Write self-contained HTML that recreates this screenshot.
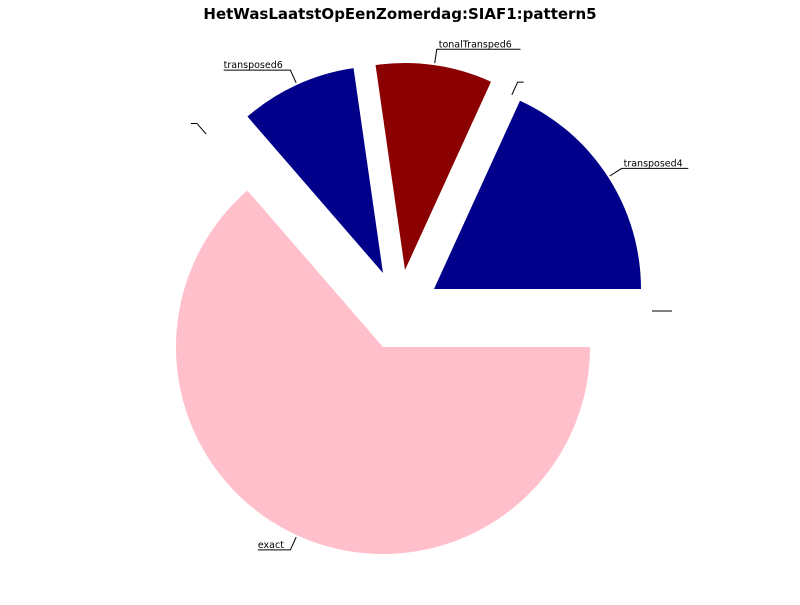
<!DOCTYPE html>
<html><head><meta charset="utf-8"><style>
body{margin:0;background:#fff}
svg text{font-family:"DejaVu Sans","Liberation Sans",sans-serif}
</style></head><body>
<svg id="chart" width="800" height="600">
<rect width="800" height="600" fill="#fff"/>
<text x="400" y="19" text-anchor="middle" font-size="15" font-weight="bold">HetWasLaatstOpEenZomerdag:SIAF1:pattern5</text>
<g id="slices"></g>
<g id="labels" font-size="9.5" fill="#000"></g>
</svg>
<script>
const categories = ["transposed4", "", "tonalTransped6", "transposed6", "", "exact", ""];
const values = [2, 0, 1, 1, 0, 7, 0];
const colors = ["#00008b", "#00008b", "#8b0000", "#00008b", "#00008b", "pink", "#00008b"];
const explodeX = [51, 42, 22, 0, -40, 0, 60];
const explodeY = [-58, -62, -77, -74, -55, 0, -36];

const cx = 383, cy = 347, R = 207;
const ns = "http://www.w3.org/2000/svg";
const total = values.reduce((a, b) => a + b, 0);
const gS = document.getElementById('slices');
const gL = document.getElementById('labels');
function pt(a, r, ox, oy) { return [cx + ox + r * Math.cos(a), cy + oy - r * Math.sin(a)]; }
let start = 0;
values.forEach((v, i) => {
  const sweep = v / total * 2 * Math.PI;
  const end = start + sweep;
  const ox = explodeX[i], oy = explodeY[i];
  if (v > 0) {
    const p0 = pt(start, R, ox, oy), p1 = pt(end, R, ox, oy);
    const large = sweep > Math.PI ? 1 : 0;
    const path = document.createElementNS(ns, 'path');
    path.setAttribute('d', `M${cx + ox},${cy + oy} L${p0[0]},${p0[1]} A${R},${R} 0 ${large} 0 ${p1[0]},${p1[1]} Z`);
    path.setAttribute('fill', colors[i]);
    
    
    gS.appendChild(path);
  }
  const mid = (start + end) / 2;
  const a = pt(mid, R + 2, ox, oy), b = pt(mid, R + 16, ox, oy);
  const right = Math.cos(mid) >= 0;
  const tw = categories[i].length * 5.7 + 4;
  const ex = right ? b[0] + Math.max(tw, 6) : b[0] - Math.max(tw, 6);
  const pl = document.createElementNS(ns, 'polyline');
  pl.setAttribute('points', `${a[0]},${a[1]} ${b[0]},${b[1]} ${ex},${b[1]}`);
  pl.setAttribute('fill', 'none');
  pl.setAttribute('stroke', '#000');
  pl.setAttribute('stroke-width', '1');
  
  
  gL.appendChild(pl);
  if (categories[i]) {
    const t = document.createElementNS(ns, 'text');
    t.setAttribute('x', right ? b[0] + 2 : ex);
    t.setAttribute('y', b[1] - 2);
    t.textContent = categories[i];
    
    
    gL.appendChild(t);
  }
  start = end;
});
</script>
</body></html>
